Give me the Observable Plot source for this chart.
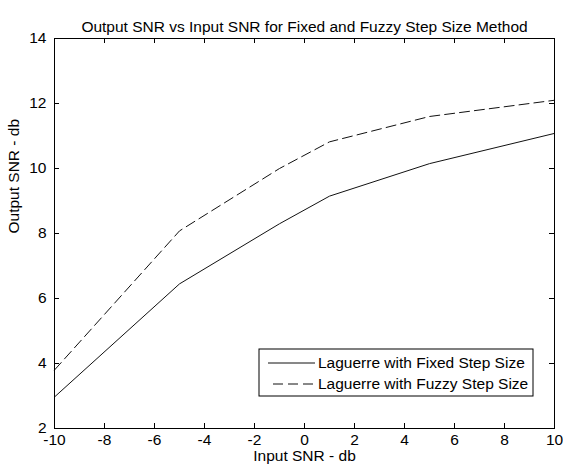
<!DOCTYPE html>
<html>
<head>
<meta charset="utf-8">
<script src="https://cdn.jsdelivr.net/npm/d3@7"></script>
<script src="https://cdn.jsdelivr.net/npm/@observablehq/plot@0.6"></script>
<style>
  html, body { margin: 0; padding: 0; background: #fff; }
  #chart { width: 563px; height: 467px; }
</style>
</head>
<body>
<div id="chart"></div>
<script>
// ---- data ----
const titleText = "Output SNR vs Input SNR for Fixed and Fuzzy Step Size Method";
const xLabel = "Input SNR - db";
const yLabel = "Output SNR - db";
const xTicks = [-10, -8, -6, -4, -2, 0, 2, 4, 6, 8, 10];
const yTicks = [2, 4, 6, 8, 10, 12, 14];
const inputSNR = [-10, -5, -1, 1, 5, 10];
const fixedSNR = [2.97, 6.45, 8.3, 9.15, 10.15, 11.08];
const fuzzySNR = [3.8, 8.08, 10.0, 10.82, 11.6, 12.1];
const seriesNames = ["Laguerre with Fixed Step Size", "Laguerre with Fuzzy Step Size"];

const FONT = "'Liberation Sans', Arial, Helvetica, sans-serif";
const FS = 15.5;
const DASH = "10,5";

const rows = [];
inputSNR.forEach((x, i) => rows.push({x, y: fixedSNR[i], s: seriesNames[0]}));
inputSNR.forEach((x, i) => rows.push({x, y: fuzzySNR[i], s: seriesNames[1]}));

const W = 563, H = 467;
const mL = 54, mR = 9, mT = 38, mB = 39;
const fw = W - mL - mR, fh = H - mT - mB;
const tick = 5;

const chart = Plot.plot({
  width: W, height: H,
  marginLeft: mL, marginRight: mR, marginTop: mT, marginBottom: mB,
  style: {fontFamily: FONT, fontSize: FS + "px", color: "#000", background: "#fff", overflow: "visible"},
  x: {domain: [-10, 10]},
  y: {domain: [2, 14]},
  marks: [
    Plot.line(rows.filter(d => d.s === seriesNames[0]), {x: "x", y: "y", stroke: "#111", strokeWidth: 1}),
    Plot.line(rows.filter(d => d.s === seriesNames[1]), {x: "x", y: "y", stroke: "#111", strokeWidth: 1, strokeDasharray: DASH}),
    Plot.frame({stroke: "#000"}),
    Plot.tickX(xTicks, {x: d => d, stroke: "#000", insetTop: fh - tick}),
    Plot.tickX(xTicks, {x: d => d, stroke: "#000", insetBottom: fh - tick}),
    Plot.tickY(yTicks, {y: d => d, stroke: "#000", insetRight: fw - tick}),
    Plot.tickY(yTicks, {y: d => d, stroke: "#000", insetLeft: fw - tick}),
    Plot.axisX(xTicks, {anchor: "bottom", tickSize: 0, tickPadding: 5, tickFormat: d => String(d), label: null, fontSize: FS}),
    Plot.axisY(yTicks, {anchor: "left", tickSize: 0, tickPadding: 8, tickFormat: d => String(d), label: null, fontSize: FS}),
    Plot.text([titleText], {frameAnchor: "top", dy: -18, fontSize: FS, fill: "#000"}),
    Plot.text([xLabel], {frameAnchor: "bottom", dy: 32, fontSize: FS, fill: "#000"}),
    Plot.text([yLabel], {frameAnchor: "left", dx: -40, rotate: -90, fontSize: FS, fill: "#000"})
  ]
});
document.getElementById("chart").appendChild(chart);

// ---- legend ----
const svg = d3.select(chart);
const lg = svg.append("g").attr("font-family", FONT).attr("font-size", FS).attr("text-anchor", "start");
const lx = 259, ly = 349, lw = 274, lh = 47;
lg.append("rect").attr("x", lx).attr("y", ly).attr("width", lw).attr("height", lh)
  .attr("fill", "#fff").attr("stroke", "#000");
const rowsY = [ly + 14, ly + 35];
const dashes = [null, DASH];
seriesNames.forEach((name, i) => {
  lg.append("line").attr("x1", lx + 9).attr("x2", lx + 56).attr("y1", rowsY[i]).attr("y2", rowsY[i])
    .attr("stroke", "#111").attr("stroke-dasharray", dashes[i]).attr("stroke-dashoffset", dashes[i] ? 10 : null);
  lg.append("text").attr("x", lx + 59).attr("y", rowsY[i]).attr("dy", "0.35em").attr("fill", "#000").text(name);
});
</script>
</body>
</html>
